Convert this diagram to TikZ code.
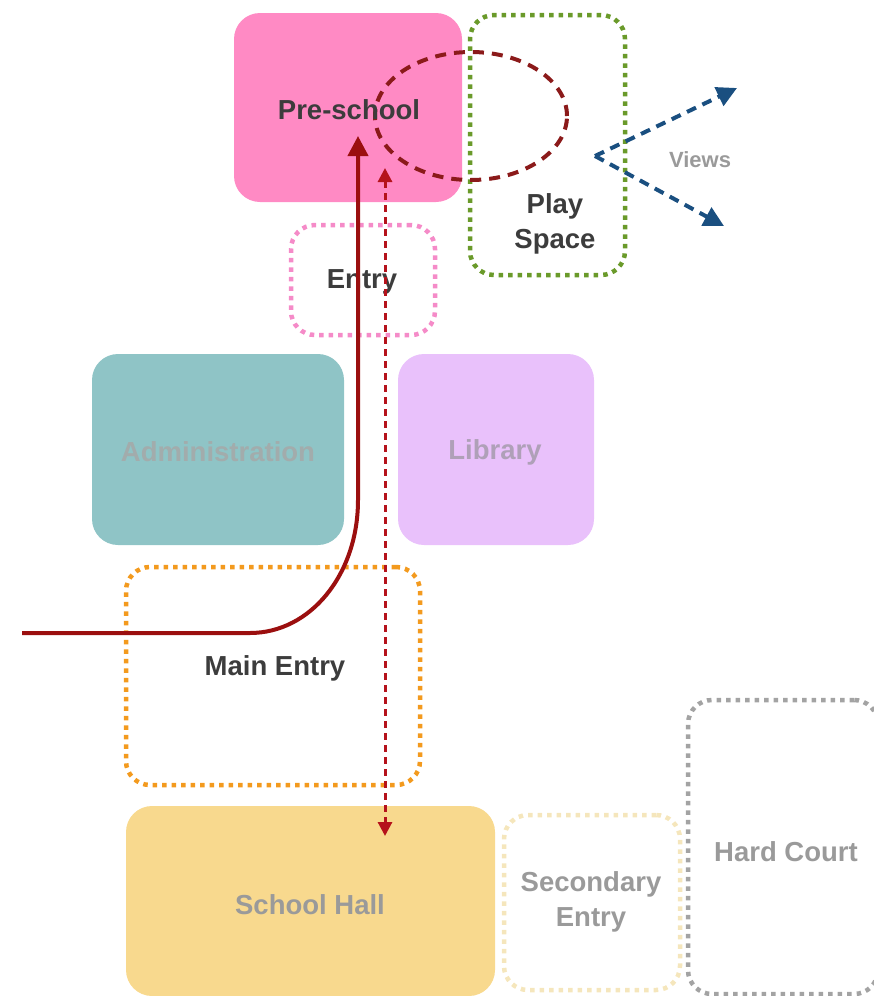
\documentclass[tikz,border=0pt]{standalone}
\usepackage{fontspec}
\setmainfont{Liberation Sans}
\usetikzlibrary{arrows.meta,shapes.geometric}
\definecolor{prefill}{HTML}{FF8AC4}
\definecolor{admfill}{HTML}{8FC4C6}
\definecolor{libfill}{HTML}{E9C1FB}
\definecolor{hallfill}{HTML}{F8D98E}
\definecolor{greendot}{HTML}{6A9A2A}
\definecolor{pinkdot}{HTML}{F58BC8}
\definecolor{orangedot}{HTML}{F39A1E}
\definecolor{yellowdot}{HTML}{F5E6BC}
\definecolor{graydot}{HTML}{A3A3A3}
\definecolor{darktext}{HTML}{3C3C3C}
\definecolor{graytext}{HTML}{9A9A9A}
\definecolor{admtext}{HTML}{A2ACAC}
\definecolor{libtext}{HTML}{AFA0B8}
\definecolor{pathred}{HTML}{9B0F0F}
\definecolor{linkred}{HTML}{B5121B}
\definecolor{ellred}{HTML}{8B1A1A}
\definecolor{viewblue}{HTML}{1A4F80}
\tikzset{
  lbl/.style={font=\bfseries\fontsize{27.5}{35}\selectfont, align=center},
  filledbox/.style={rectangle, rounded corners=26pt, inner sep=0pt},
  dotbox/.style={rectangle, rounded corners=24pt, inner sep=0pt, line width=4.5pt, dash pattern=on 4.5pt off 5pt},
}
\begin{document}
\begin{tikzpicture}[x=1pt,y=-1pt]
\useasboundingbox (0,0) rectangle (874,996);
% filled boxes
\node[filledbox, fill=prefill, minimum width=228pt, minimum height=189pt] (pre) at (348,107.5) {};
\node[filledbox, fill=admfill, minimum width=252pt, minimum height=191pt] (adm) at (218,449.5) {};
\node[filledbox, fill=libfill, minimum width=196pt, minimum height=191pt] (lib) at (496,449.5) {};
\node[filledbox, fill=hallfill, minimum width=369pt, minimum height=190pt] (hall) at (310.5,901) {};
% dotted boxes
\node[dotbox, draw=greendot, minimum width=155pt, minimum height=260pt] (play) at (547.5,145) {};
\node[dotbox, draw=pinkdot, minimum width=144pt, minimum height=110pt] (entry) at (363,280) {};
\node[dotbox, draw=orangedot, minimum width=294pt, minimum height=218pt] (main) at (273,676) {};
\node[dotbox, draw=yellowdot, minimum width=176pt, minimum height=175pt] (sec) at (592,902.5) {};
\node[dotbox, draw=graydot, minimum width=190pt, minimum height=294pt] (court) at (783,847) {};
% play-space ellipse
\node[ellipse, draw=ellred, line width=4pt, dash pattern=on 11pt off 8pt, minimum width=192pt, minimum height=128pt, inner sep=0pt] (zone) at (471,116) {};
% labels
\node[lbl, text=darktext] (preL) at (349,110) {Pre-school};
\node[lbl, text=darktext] (playL) at (555,224) {Play\\Space};
\node[lbl, text=darktext] (entryL) at (362,282) {Entry};
\node[lbl, text=admtext] (admL) at (218,452) {Administration};
\node[lbl, text=libtext] (libL) at (495,452) {Library};
\node[lbl, text=darktext] (mainL) at (275,668) {Main Entry};
\node[lbl, text=graytext] (hallL) at (310,905) {School Hall};
\node[lbl, text=graytext] (secL) at (591,902) {Secondary\\Entry};
\node[lbl, text=graytext] (courtL) at (786,852) {Hard Court};
\node[lbl, text=graytext, font=\bfseries\fontsize{22}{26}\selectfont] (viewsL) at (700,160) {Views};
% main route
\coordinate (routeStart) at (22,633);
\coordinate (routeBend) at (250,633);
\coordinate (routeUp) at (358,500);
\coordinate (routeEnd) at (358,136);
\draw[pathred, line width=4pt, -{Triangle[length=20pt,width=20pt]}]
  (routeStart) -- (routeBend) .. controls (310,633) and (358,575) .. (routeUp) -- (routeEnd);
% link pre-school to hall
\coordinate (linkTop) at (385,168);
\coordinate (linkBot) at (385,836);
\draw[linkred, line width=3pt, dash pattern=on 7pt off 5pt, {Triangle[length=14pt,width=14pt]}-{Triangle[length=14pt,width=14pt]}]
  (linkTop) -- (linkBot);
% views
\coordinate (vroot) at (595,156);
\coordinate (vup) at (737,88);
\coordinate (vdown) at (724,226);
\draw[viewblue, line width=4pt, dash pattern=on 10pt off 7pt, -{Triangle[length=20pt,width=20pt]}] (vroot) -- (vup);
\draw[viewblue, line width=4pt, dash pattern=on 10pt off 7pt, -{Triangle[length=20pt,width=20pt]}] (vroot) -- (vdown);
\end{tikzpicture}
\end{document}
